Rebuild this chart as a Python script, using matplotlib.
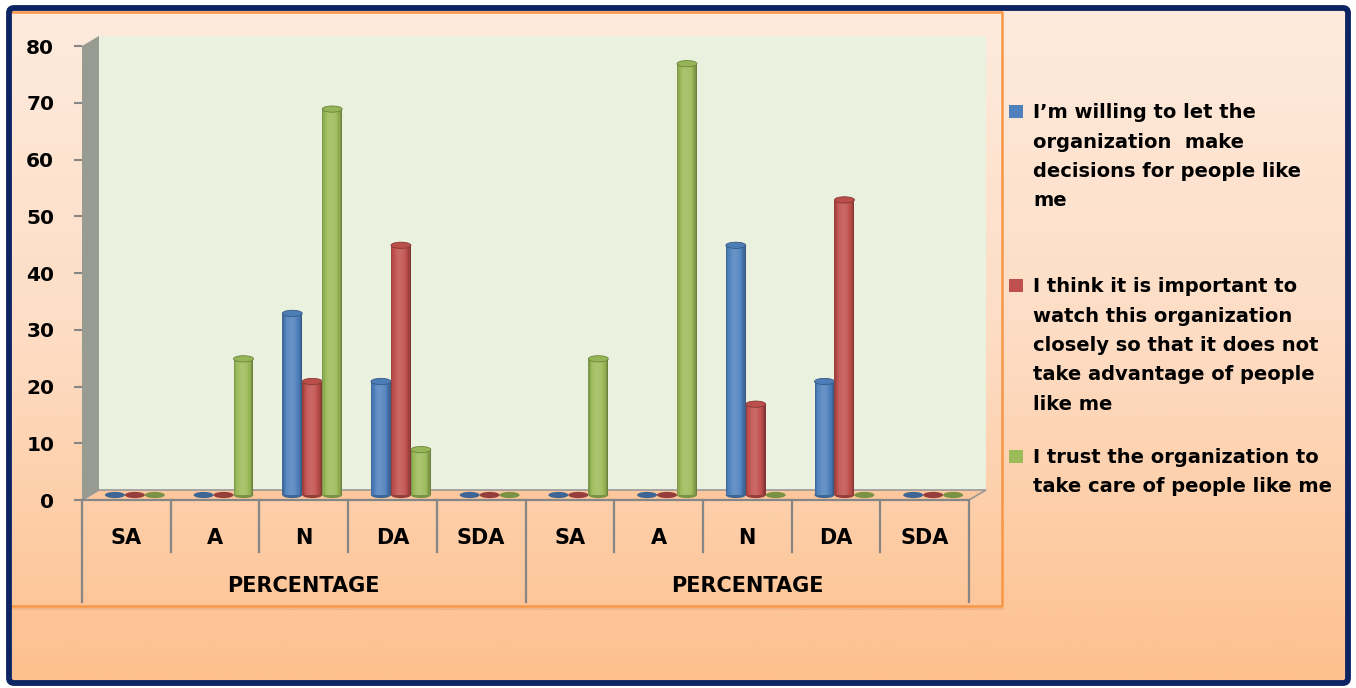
import numpy as np
import matplotlib
matplotlib.use('Agg')
import matplotlib.pyplot as plt
from matplotlib.patches import Rectangle, Polygon, Ellipse, FancyBboxPatch
from matplotlib.colors import to_rgb, LinearSegmentedColormap
from matplotlib.transforms import blended_transform_factory

plt.rcParams['font.family'] = ['DejaVu Sans']
plt.rcParams['font.weight'] = 'bold'

# survey answers, two blocks of five levels
categories = ['SA', 'A', 'N', 'DA', 'SDA', 'SA', 'A', 'N', 'DA', 'SDA']
group_labels = ['PERCENTAGE', 'PERCENTAGE']
series_names = [
    "I\u2019m willing to let the\norganization  make\ndecisions for people like\nme",
    "I think it is important to\nwatch this organization\nclosely so that it does not\ntake advantage of people\nlike me",
    "I trust the organization to\ntake care of people like me",
]
willing = [0, 0, 32, 20, 0, 0, 0, 44, 20, 0]
watch = [0, 0, 20, 44, 0, 0, 0, 16, 52, 0]
trust = [0, 24, 68, 8, 0, 24, 76, 0, 0, 0]
colors = ['#4F81BD', '#C0504D', '#9BBB59']
yticks = [0, 10, 20, 30, 40, 50, 60, 70, 80]


def shade(c, f):
    c = np.array(to_rgb(c))
    if f >= 1:
        return tuple(c + (1 - c) * (f - 1))
    return tuple(c * f)


W, H = 1356, 688
fig = plt.figure(figsize=(W / 100, H / 100), dpi=100)

# background layer in pixel units
bg = fig.add_axes([0, 0, 1, 1])
bg.axis('off')
cmap = LinearSegmentedColormap.from_list('peach', ['#FEEBDD', '#FDDCC3', '#FDC08D'])
grad = np.linspace(0, 1, 256).reshape(-1, 1)
bg.imshow(grad, cmap=cmap, extent=[10, 1348, 684, 8], aspect='auto', zorder=0)
bg.add_patch(FancyBboxPatch((9, 8), 1339, 675, boxstyle='round,pad=0,rounding_size=5',
                            fc='none', ec='#0D2463', lw=4.2, zorder=5))
bg.plot([12, 1002, 1002, 12], [12, 12, 606, 606], color='#F79646', lw=1.8, zorder=2)
bg.plot([12, 1003], [609, 609], color='#D9905A', lw=1.2, alpha=0.35, zorder=2)
bg.set_xlim(0, W)
bg.set_ylim(H, 0)

# legend
for name, c, y0 in zip(series_names, colors, [118, 292, 463]):
    bg.add_patch(Rectangle((1009, y0 - 13), 14, 13, fc=c, ec='none', zorder=3))
    for k, line in enumerate(name.split('\n')):
        bg.text(1033, y0 + k * 29.5, line, fontsize=14, fontweight='bold',
                va='baseline', ha='left', color='black', zorder=4)

# chart axes
ax = fig.add_axes([82 / W, (H - 500) / H, (969 - 82) / W, (500 - 46) / H])
ax.set_xlim(0, 10)
ax.set_ylim(0, 80)
ax.patch.set_alpha(0)
for s in ax.spines.values():
    s.set_visible(False)

ddx = 17 / 88.7
ddy = 10 / 5.675

# walls and floor
ax.add_patch(Rectangle((ddx, ddy), 10, 80, fc='#EBF1DF', ec='none', zorder=1, clip_on=False))
ax.add_patch(Polygon([(0, 0), (0, 80), (ddx, 80 + ddy), (ddx, ddy)], closed=True,
                     fc='#979B92', ec='none', zorder=1, clip_on=False))
ax.add_patch(Polygon([(0, 0), (10, 0), (10 + ddx, ddy), (ddx, ddy)], closed=True,
                     fc='#FCC79C', ec='#999999', lw=1.2, zorder=1.5, clip_on=False))
ax.plot([0, 10], [0, 0], color='#868686', lw=1.6, zorder=2, clip_on=False)

# cylinders
bw = 0.225
eh = 1.1
base = ddy / 2
xc = np.arange(len(categories)) + 0.5 + ddx / 2
nstrip = 16
t = (np.arange(nstrip) + 0.5) / nstrip
prof = 0.7 + 0.5 * np.sin(np.pi * t) ** 0.6 - 0.14 * t
sw = bw / nstrip
for j, (vals, c) in enumerate(zip([willing, watch, trust], colors)):
    vals = np.array(vals, dtype=float)
    xl = xc + (j - 1.5) * bw
    z = 3 + j * 0.01
    for xi in xl:
        ax.add_patch(Ellipse((xi + bw / 2, base), bw, eh, fc=shade(c, 0.78), ec='none',
                             zorder=z, clip_on=False))
    for k in range(nstrip):
        w = sw * (1.6 if k < nstrip - 1 else 1.0)
        ax.bar(xl + k * sw, vals, width=w, bottom=base, align='edge',
               color=shade(c, prof[k]), linewidth=0, zorder=z + 0.001, clip_on=False)
    for xi, v in zip(xl, vals):
        if v > 0:
            ax.add_patch(Ellipse((xi + bw / 2, base + v), bw, eh, fc=shade(c, 0.97),
                                 ec=shade(c, 0.7), lw=0.6, zorder=z + 0.002, clip_on=False))

# y axis
ax.set_yticks(yticks)
ax.set_yticklabels([str(v) for v in yticks], fontsize=14.5, fontweight='bold')
ax.tick_params(axis='y', length=6, width=1.5, color='#868686', pad=14, left=True)

# category axis
ax.set_xticks(np.arange(len(categories)) + 0.5)
ax.set_xticklabels(categories, fontsize=15, fontweight='bold')
ax.tick_params(axis='x', length=0, pad=20)
tr = blended_transform_factory(ax.transData, ax.transAxes)
for i in range(len(categories) + 1):
    long = i % 5 == 0
    ax.plot([i, i], [0, -0.2247 if long else -0.1145], transform=tr,
            color='#868686', lw=1.6, clip_on=False, zorder=2)
for g, lab in enumerate(group_labels):
    ax.text(g * 5 + 2.5, -0.189, lab, transform=tr, ha='center', va='center',
            fontsize=15, fontweight='bold')

fig.savefig('out.png', dpi=100)
